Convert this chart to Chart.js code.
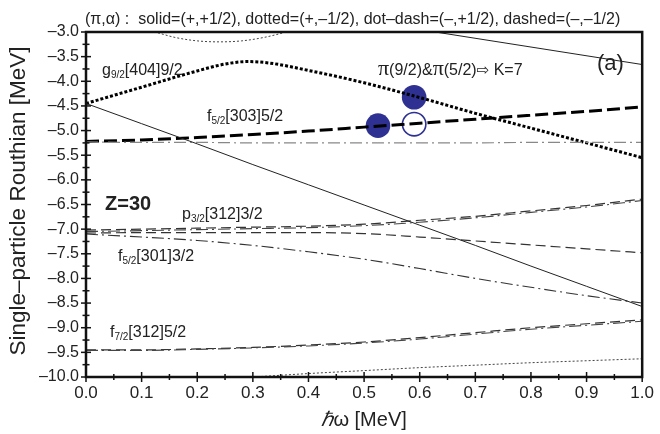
<!DOCTYPE html>
<html>
<head>
<meta charset="utf-8">
<script src="https://cdn.jsdelivr.net/npm/chart.js@4.4.1/dist/chart.umd.min.js"></script>
<style>
  body { margin: 0; background: #fff; }
  #wrap { width: 660px; height: 434px; }
</style>
</head>
<body>
<div id="wrap"><canvas id="routhian" width="660" height="434"></canvas></div>
<script>
// hbar*omega grid used by most of the levels
const omega = [0, 0.1, 0.2, 0.3, 0.4, 0.5, 0.6, 0.7, 0.8, 0.9, 1.0];

// (+,+1/2) solid
const solidDown = [-4.45, -4.86, -5.27, -5.69, -6.10, -6.51, -6.92, -7.33, -7.75, -8.16, -8.57];
const solidTopX = [0.6, 1.0];
const solidTop = [-2.95, -3.66];

// (+,-1/2) dotted : g9/2[404]9/2 and two weak ones at the edges
const g92X = [0, 0.1, 0.2, 0.25, 0.29, 0.33, 0.4, 0.5, 0.6, 0.7, 0.8, 0.9, 1.0];
const g92 = [-4.45, -4.12, -3.79, -3.65, -3.60, -3.63, -3.78, -4.03, -4.33, -4.65, -4.95, -5.25, -5.55];
const dotTopX = [0.08, 0.12, 0.16, 0.2, 0.24, 0.28, 0.32, 0.36, 0.4];
const dotTop = [-2.90, -2.99, -3.11, -3.18, -3.20, -3.18, -3.11, -3.00, -2.86];
const dotBotX = [0.25, 0.3, 0.4, 0.5, 0.6, 0.7, 0.8, 0.9, 1.0];
const dotBot = [-10.03, -10.0, -9.93, -9.87, -9.81, -9.76, -9.71, -9.67, -9.63];

// (-,-1/2) dashed
const f52a = [-5.22, -5.19, -5.14, -5.08, -5.01, -4.93, -4.85, -4.77, -4.69, -4.61, -4.52];
const p32Dash = [-7.02, -7.00, -6.98, -6.96, -6.94, -6.90, -6.82, -6.74, -6.63, -6.52, -6.39];
const f52bDash = [-7.08, -7.07, -7.07, -7.07, -7.07, -7.09, -7.16, -7.24, -7.32, -7.40, -7.48];
const f72Dash = [-9.45, -9.45, -9.43, -9.40, -9.35, -9.29, -9.20, -9.10, -9.00, -8.92, -8.84];

// (-,+1/2) dot-dash
const f52aDD = [-5.23, -5.24, -5.24, -5.25, -5.25, -5.25, -5.25, -5.25, -5.24, -5.24, -5.24];
const p32DD = [-7.05, -7.03, -7.01, -6.99, -6.97, -6.93, -6.86, -6.77, -6.66, -6.55, -6.42];
const f52bDD = [-7.10, -7.16, -7.23, -7.33, -7.46, -7.61, -7.80, -8.00, -8.18, -8.35, -8.50];
const f72DD = [-9.46, -9.46, -9.44, -9.41, -9.37, -9.31, -9.23, -9.13, -9.03, -8.95, -8.87];

// occupied / empty quasiparticle orbits
const fullX = [0.525, 0.59];
const fullY = [-4.90, -4.325];
const emptyX = [0.59];
const emptyY = [-4.87];

const FONT = '"Liberation Sans", Arial, sans-serif';

function pts(xs, ys) {
    return ys.map((y, i) => ({ x: xs[i], y: y }));
}

function level(xs, ys, color, width, dash) {
    return {
        data: pts(xs, ys),
        borderColor: color,
        borderWidth: width,
        borderDash: dash,
        pointRadius: 0,
        fill: false,
        cubicInterpolationMode: 'monotone'
    };
}

const datasets = [
    level(omega, solidDown, '#222', 1, []),
    level(solidTopX, solidTop, '#222', 1, []),
    level(dotTopX, dotTop, '#444', 1, [2, 2]),
    level(dotBotX, dotBot, '#444', 1, [2, 2]),
    level(omega, f52aDD, '#888', 1.2, [12, 4, 2, 4]),
    level(omega, p32DD, '#444', 1.1, [12, 4, 2, 4]),
    level(omega, f52bDD, '#333', 1.1, [12, 4, 2, 4]),
    level(omega, f72DD, '#444', 1.1, [12, 4, 2, 4]),
    level(omega, p32Dash, '#333', 1.2, [10, 5]),
    level(omega, f52bDash, '#333', 1.2, [10, 5]),
    level(omega, f72Dash, '#333', 1.2, [10, 5]),
    level(g92X, g92, '#000', 3, [3, 2]),
    level(omega, f52a, '#000', 3, [13, 5]),
    {
        type: 'scatter',
        data: pts(fullX, fullY),
        pointRadius: 12.3,
        pointBackgroundColor: '#2e3192',
        pointBorderColor: '#2e3192',
        borderWidth: 0
    },
    {
        type: 'scatter',
        data: pts(emptyX, emptyY),
        pointRadius: 11.7,
        pointBackgroundColor: '#fff',
        pointBorderColor: '#2e3192',
        pointBorderWidth: 1.6
    }
];

// frame and crossing tick marks
const frame = {
    id: 'frame',
    afterDatasetsDraw(chart) {
        const { ctx, chartArea: a, scales } = chart;
        ctx.save();
        ctx.strokeStyle = '#111';
        ctx.lineWidth = 2.5;
        ctx.strokeRect(a.left, a.top, a.right - a.left, a.bottom - a.top);
        ctx.lineWidth = 1.5;
        for (let k = 0; k <= 28; k++) {
            const v = -10 + k * 0.25;
            const y = scales.y.getPixelForValue(v);
            const len = k % 2 === 0 ? 5 : 3.5;
            ctx.beginPath();
            ctx.moveTo(a.left - len, y);
            ctx.lineTo(a.left + len, y);
            ctx.stroke();
        }
        for (let k = 0; k <= 20; k++) {
            const x = scales.x.getPixelForValue(k * 0.05);
            const major = k % 2 === 0;
            ctx.beginPath();
            ctx.moveTo(x, a.bottom - (major ? 5 : 3));
            ctx.lineTo(x, a.bottom + (major ? 5 : 3));
            ctx.stroke();
        }
        ctx.restore();
    }
};

function runs(ctx, x, y, parts) {
    parts.forEach(p => {
        ctx.font = p.font;
        ctx.fillText(p.t, x, y + (p.dy || 0));
        x += ctx.measureText(p.t).width;
    });
}

function orbit(ctx, x, y, j, sub, rest) {
    runs(ctx, x, y, [
        { t: j, font: '16px ' + FONT },
        { t: sub, font: '10px ' + FONT, dy: 3 },
        { t: rest, font: '16px ' + FONT }
    ]);
}

const labels = {
    id: 'labels',
    afterDraw(chart) {
        const { ctx, chartArea: a } = chart;
        ctx.save();
        ctx.fillStyle = '#222';
        ctx.textBaseline = 'alphabetic';
        ctx.textAlign = 'left';

        ctx.font = '16px ' + FONT;
        ctx.fillText('(\u03c0,\u03b1) :  solid=(+,+1/2), dotted=(+,\u20131/2), dot\u2013dash=(\u2013,+1/2), dashed=(\u2013,\u20131/2)', 85, 24);

        orbit(ctx, 102, 75, 'g', '9/2', '[404]9/2');
        orbit(ctx, 207, 121, 'f', '5/2', '[303]5/2');
        orbit(ctx, 182, 219, 'p', '3/2', '[312]3/2');
        orbit(ctx, 118, 261, 'f', '5/2', '[301]3/2');
        orbit(ctx, 110, 337, 'f', '7/2', '[312]5/2');

        ctx.font = 'bold 20px ' + FONT;
        ctx.fillText('Z=30', 105, 210);

        runs(ctx, 378, 75, [
            { t: '\u03c0', font: '22px "Liberation Serif", serif' },
            { t: '(9/2)&', font: '16px ' + FONT },
            { t: '\u03c0', font: '22px "Liberation Serif", serif' },
            { t: '(5/2)', font: '16px ' + FONT },
            { t: '\u21e8', font: '15px "DejaVu Sans", sans-serif' },
            { t: ' K=7', font: '16px ' + FONT }
        ]);

        ctx.font = '22px ' + FONT;
        ctx.fillText('(a)', 597, 70);

        // axis titles
        const cx = (a.left + a.right) / 2;
        ctx.font = 'italic 20px ' + FONT;
        const w1 = ctx.measureText('\u210f').width;
        ctx.font = '20px ' + FONT;
        const w2 = ctx.measureText('\u03c9 [MeV]').width;
        const x0 = cx - (w1 + w2) / 2;
        ctx.font = 'italic 20px ' + FONT;
        ctx.fillText('\u210f', x0, 426);
        ctx.font = '20px ' + FONT;
        ctx.fillText('\u03c9 [MeV]', x0 + w1, 426);

        ctx.translate(25, 201);
        ctx.rotate(-Math.PI / 2);
        ctx.textAlign = 'center';
        ctx.font = '22.5px ' + FONT;
        ctx.fillText('Single\u2013particle Routhian [MeV]', 0, 0);
        ctx.restore();
    }
};

new Chart(document.getElementById('routhian'), {
    type: 'line',
    data: { datasets: datasets },
    options: {
        responsive: false,
        animation: false,
        layout: { padding: { top: 32, right: 13, left: 0, bottom: 0 } },
        plugins: { legend: { display: false }, tooltip: { enabled: false } },
        scales: {
            x: {
                type: 'linear',
                min: 0,
                max: 1,
                grid: { display: false, drawTicks: false },
                border: { display: false },
                ticks: {
                    stepSize: 0.1,
                    padding: 6,
                    color: '#222',
                    font: { family: FONT, size: 17 },
                    maxRotation: 0,
                    callback: v => v.toFixed(1)
                },
                afterFit(scale) { scale.height = 57; }
            },
            y: {
                type: 'linear',
                min: -10,
                max: -3,
                grid: { display: false, drawTicks: false },
                border: { display: false },
                ticks: {
                    stepSize: 0.5,
                    padding: 7,
                    color: '#222',
                    font: { family: FONT, size: 16 },
                    callback: v => '\u2013' + Math.abs(v).toFixed(1)
                },
                afterFit(scale) { scale.width = 86; }
            }
        }
    },
    plugins: [frame, labels]
});
</script>
</body>
</html>
